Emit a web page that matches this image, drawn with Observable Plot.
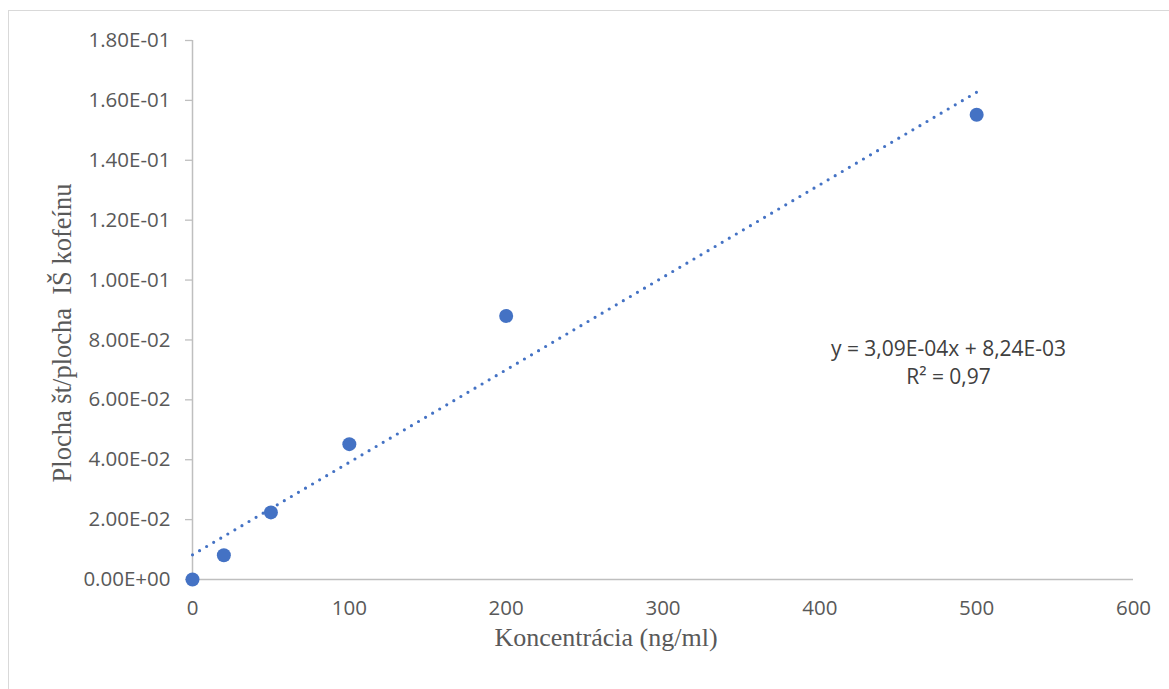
<!DOCTYPE html>
<html>
<head>
<meta charset="utf-8">
<script src="https://cdn.jsdelivr.net/npm/d3@7"></script>
<script src="https://cdn.jsdelivr.net/npm/@observablehq/plot@0.6"></script>
<style>
  html, body { margin: 0; padding: 0; background: #fff; overflow: hidden; }
  #wrap { position: relative; width: 1169px; height: 689px; }
  #border { position: absolute; left: 8px; top: 10px; width: 1300px; height: 800px; border: 1px solid #d9d9d9; box-sizing: border-box; pointer-events: none; }
  #chart { position: absolute; left: 0; top: 0; }
</style>
</head>
<body>
<div id="wrap"><div id="border"></div><div id="chart"></div></div>
<script>
// Data
const concentration = [0, 20, 50, 100, 200, 500];
const areaRatio = [0.0, 0.0081, 0.0224, 0.0452, 0.0880, 0.1552];

// Trendline as printed on the chart
const trendSlope = 3.09e-4;
const trendIntercept = 8.24e-3;
const trendX = [0, 500];

const xTicks = [0, 100, 200, 300, 400, 500, 600];
const yTicks = [0, 0.02, 0.04, 0.06, 0.08, 0.10, 0.12, 0.14, 0.16, 0.18];
const yTickLabels = ["0.00E+00", "2.00E-02", "4.00E-02", "6.00E-02", "8.00E-02", "1.00E-01", "1.20E-01", "1.40E-01", "1.60E-01", "1.80E-01"];

const xTitle = "Koncentrácia (ng/ml)";
const yTitle = "Plocha št/plocha  IŠ kofeínu";
const equationText = "y = 3,09E-04x + 8,24E-03\nR² = 0,97";

const points = concentration.map((c, i) => ({x: c, y: areaRatio[i]}));
const trend = trendX.map(x => ({x, y: trendSlope * x + trendIntercept}));

const axisGray = "#bfbfbf";
const textGray = "#595959";
const blue = "#4472C4";
const sans = "'Open Sans', sans-serif";
const serif = "'Liberation Serif', serif";

const chart = Plot.plot({
  width: 1169,
  height: 689,
  marginLeft: 192,
  marginRight: 36,
  marginTop: 40,
  marginBottom: 110,
  style: {fontFamily: sans, fontSize: "20.5px", background: "transparent", color: textGray},
  x: {domain: [0, 600]},
  y: {domain: [0, 0.18]},
  marks: [
    Plot.axisY({ticks: yTicks, tickFormat: d => yTickLabels[yTicks.indexOf(d)], tickSize: 7, tickPadding: 15, stroke: axisGray, fill: textGray, label: null, strokeWidth: 1.3, fontSize: 20.5, fontFamily: sans}),
    Plot.axisX({ticks: xTicks, tickFormat: d => String(d), tickSize: 0, tickPadding: 21, fill: textGray, label: null, fontSize: 20.5, fontFamily: sans}),
    Plot.ruleX([0], {stroke: axisGray, strokeWidth: 1.5}),
    Plot.ruleY([0], {stroke: axisGray, strokeWidth: 1.5}),
    Plot.line(trend, {x: "x", y: "y", stroke: blue, strokeWidth: 3.2, strokeDasharray: "0 8.2", strokeLinecap: "round"}),
    Plot.dot(points, {x: "x", y: "y", r: 7, fill: blue, stroke: null}),
    Plot.text([equationText], {frameAnchor: "top-left", dx: 756, dy: 296, text: d => d, textAnchor: "middle", lineAnchor: "top", lineHeight: 1.33, fontSize: 21, fill: "#404040", fontFamily: sans}),
    Plot.text([xTitle], {frameAnchor: "bottom", text: d => d, dx: -57, dy: 58, textAnchor: "middle", lineAnchor: "middle", fontSize: 26, fill: textGray, fontFamily: serif}),
    Plot.text([yTitle], {frameAnchor: "left", text: d => d, rotate: -90, dx: -130, dy: 23, textAnchor: "middle", lineAnchor: "middle", fontSize: 26.5, fill: textGray, fontFamily: serif})
  ]
});
chart.querySelectorAll("text").forEach(t => t.style.whiteSpace = "pre");
document.getElementById("chart").appendChild(chart);
</script>
</body>
</html>
